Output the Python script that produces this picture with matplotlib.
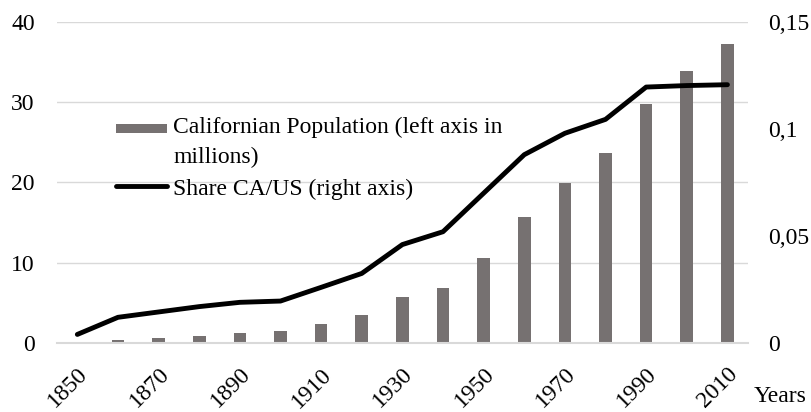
import matplotlib.pyplot as plt
from matplotlib.patches import Rectangle
from matplotlib.legend_handler import HandlerPatch
from matplotlib.ticker import FuncFormatter

years = [1850, 1860, 1870, 1880, 1890, 1900, 1910, 1920, 1930, 1940,
         1950, 1960, 1970, 1980, 1990, 2000, 2010]
population = [0.09, 0.38, 0.56, 0.86, 1.21, 1.49, 2.38, 3.43, 5.68, 6.91,
              10.59, 15.72, 19.95, 23.67, 29.76, 33.87, 37.25]
share = [0.004, 0.012, 0.0145, 0.017, 0.019, 0.0196, 0.026, 0.0325, 0.046,
         0.052, 0.070, 0.088, 0.098, 0.1045, 0.1196, 0.1203, 0.1207]

plt.rcParams['font.family'] = ['Liberation Serif', 'DejaVu Serif']
plt.rcParams['font.size'] = 17

fig = plt.figure(figsize=(8.11, 4.12), dpi=100)
ax = fig.add_axes([0.0703, 0.1675, 0.8517, 0.7791])
ax2 = ax.twinx()

x = list(range(len(years)))
bars = ax.bar(x, population, width=0.31, color='#767171', zorder=2)
line, = ax2.plot(x, share, color='black', lw=3.5, solid_capstyle='round')

ax.set_xlim(-0.5, len(years) - 0.5)
ax.set_ylim(0, 40)
ax.set_yticks([0, 10, 20, 30, 40])
ax2.set_ylim(0, 0.15)
ax2.set_yticks([0, 0.05, 0.1, 0.15])
ax2.yaxis.set_major_formatter(FuncFormatter(lambda v, p: ('%g' % v).replace('.', ',')))

ax.grid(axis='y', color='#d9d9d9', lw=1, zorder=0)
ax.set_axisbelow(True)
for a in (ax, ax2):
    for s in a.spines.values():
        s.set_visible(False)
    a.tick_params(length=0)
ax.spines['bottom'].set_visible(True)
ax.spines['bottom'].set_color('#d9d9d9')
ax.spines['bottom'].set_linewidth(1.5)

ax.set_xticks(x[::2])
ax.set_xticklabels([str(y) for y in years[::2]], rotation=45, ha='right',
                   rotation_mode='anchor')
ax.tick_params(axis='x', pad=15)
ax.tick_params(axis='y', pad=16)
ax2.tick_params(axis='y', pad=15)

fig.text(0.962, 0.012, 'Years', ha='center', va='bottom')


# bar swatch sits on the first line of the two-line label
def top_patch(legend, orig_handle, xdescent, ydescent, width, height, fontsize):
    return Rectangle((-xdescent, -ydescent + 0.72 * fontsize), width, 0.38 * fontsize)


bar_handle = bars.patches[0]
leg = ax2.legend([bar_handle, line],
                 ['Californian Population (left axis in\nmillions)', 'Share CA/US (right axis)'],
                 loc='upper left', bbox_to_anchor=(0.072, 0.733),
                 frameon=False, handlelength=2.16, handletextpad=0.25, labelspacing=0.45,
                 borderaxespad=0, handler_map={bar_handle: HandlerPatch(patch_func=top_patch)})
leg.get_texts()[0].set_linespacing(1.5)

fig.savefig('out.png', dpi=100)
